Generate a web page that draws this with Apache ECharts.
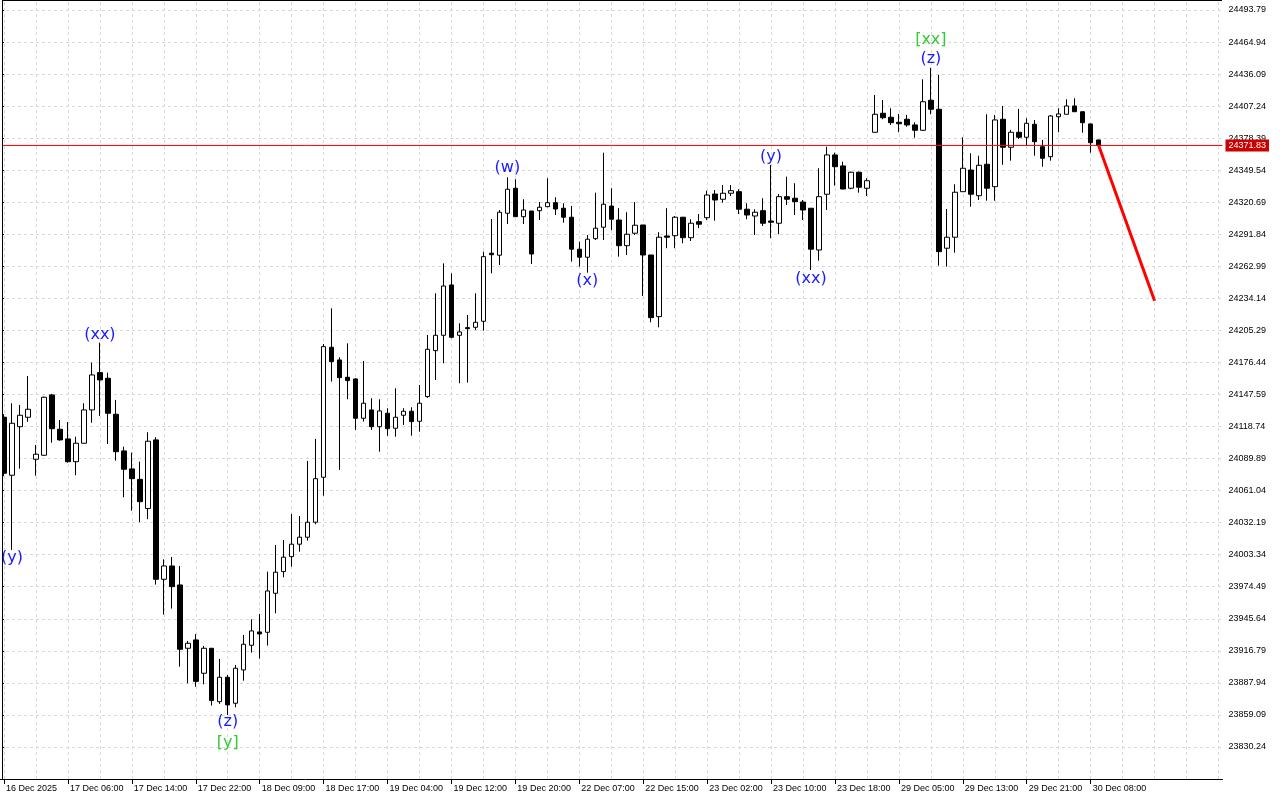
<!DOCTYPE html>
<html><head><meta charset="utf-8">
<script src="https://cdn.jsdelivr.net/npm/echarts@6/dist/echarts.min.js"></script>
<style>html,body{margin:0;padding:0;background:#fff}#c{width:1280px;height:800px}</style>
</head><body><div id="c"></div>
<script>
const xTickLabels = ["16 Dec 2025","17 Dec 06:00","17 Dec 14:00","17 Dec 22:00","18 Dec 09:00","18 Dec 17:00","19 Dec 04:00","19 Dec 12:00","19 Dec 20:00","22 Dec 07:00","22 Dec 15:00","23 Dec 02:00","23 Dec 10:00","23 Dec 18:00","29 Dec 05:00","29 Dec 13:00","29 Dec 21:00","30 Dec 08:00"];

const openV = [24127.1,24074.9,24118.6,24127.1,24089.3,24092.9,24147.2,24116.3,24107.6,24087.1,
24103.7,24133.7,24167.3,24162.2,24129.8,24096.8,24080.6,24071.2,24044.9,24106.7,
23981.2,23993.2,23976.1,23919.1,23926.6,23896.6,23919.1,23871.0,23893.0,23869.6,
23899.6,23921.8,23933.8,23933.5,23968.6,23988.1,24001.6,24012.8,24019.1,24032.6,
24073.1,24190.1,24178.7,24163.1,24161.6,24126.2,24133.7,24118.6,24130.7,24117.2,
24128.9,24132.5,24123.5,24145.7,24187.1,24200.9,24246.2,24200.9,24207.8,24208.1,
24213.5,24274.8,24273.0,24310.8,24333.3,24307.7,24312.8,24313.1,24316.7,24320.3,
24315.3,24307.2,24278.4,24271.2,24287.9,24298.2,24317.3,24304.7,24281.6,24292.8,
24300.2,24273.2,24217.7,24290.3,24290.6,24307.2,24288.8,24303.2,24306.8,24328.1,
24323.4,24328.8,24330.2,24314.4,24308.3,24313.1,24303.8,24301.8,24325.7,24324.3,
24320.9,24315.3,24277.7,24327.9,24363.3,24353.4,24333.3,24347.7,24333.3,24383.7,
24400.8,24397.2,24392.7,24395.4,24390.3,24385.5,24412.5,24404.4,24279.3,24289.2,
24330.2,24349.7,24326.6,24354.9,24334.7,24395.4,24370.2,24383.7,24379.2,24390.9,
24370.7,24361.7,24397.7,24399.9,24407.4,24402.2,24391.2,24376.8];

const closeV = [24076.7,24121.7,24128.9,24134.3,24093.8,24145.1,24116.8,24106.7,24087.1,24103.7,
24133.7,24165.2,24160.7,24130.7,24096.1,24080.3,24071.8,24051.1,24105.5,23981.2,
23993.2,23974.6,23918.2,23923.6,23889.3,23919.1,23872.0,23893.0,23868.1,23901.1,
23922.7,23934.7,23932.0,23970.7,23987.6,24001.1,24012.8,24019.1,24032.6,24071.8,
24190.7,24177.2,24162.8,24160.1,24126.2,24139.7,24118.6,24132.8,24116.8,24127.1,
24132.5,24123.2,24139.7,24188.3,24200.9,24245.3,24199.1,24203.9,24206.9,24212.6,
24271.7,24273.5,24311.7,24332.4,24307.7,24313.7,24274.1,24316.2,24320.3,24314.6,
24307.2,24278.4,24271.2,24287.4,24297.3,24318.9,24305.4,24281.6,24291.9,24300.0,
24273.2,24216.8,24289.2,24289.2,24307.2,24288.8,24301.8,24300.9,24327.2,24322.7,
24328.8,24331.1,24314.4,24309.2,24311.7,24301.8,24302.7,24325.7,24323.4,24321.2,
24313.7,24278.4,24325.7,24363.3,24352.7,24332.6,24347.7,24334.2,24340.1,24399.9,
24396.8,24392.3,24391.4,24390.3,24385.5,24411.2,24404.4,24276.2,24289.2,24329.7,
24351.3,24327.9,24354.0,24333.3,24394.8,24370.2,24383.7,24379.2,24391.8,24375.2,
24360.3,24398.4,24400.2,24407.4,24402.2,24392.3,24374.3,24371.83];

const lowV = [24074.0,24007.6,24080.8,24123.1,24074.5,24092.3,24104.2,24106.1,24086.2,24074.9,
24103.5,24122.2,24128.3,24103.1,24088.0,24055.1,24043.0,24032.6,24035.3,23976.4,
23949.4,23954.8,23902.6,23887.6,23884.5,23886.7,23867.5,23869.0,23859.1,23866.0,
23889.9,23915.2,23909.8,23921.5,23950.6,23983.0,23992.6,24006.1,24016.0,24030.8,
24056.5,24159.2,24079.7,24143.3,24115.7,24123.2,24115.7,24096.1,24110.3,24109.6,
24120.2,24110.5,24114.1,24144.5,24160.7,24175.7,24198.2,24157.7,24158.3,24205.7,
24205.1,24256.7,24264.2,24301.1,24307.4,24301.1,24265.1,24304.7,24316.2,24309.2,
24302.3,24267.2,24262.7,24257.3,24286.7,24286.7,24295.7,24271.7,24273.2,24291.2,
24236.3,24212.6,24208.1,24279.3,24279.3,24283.8,24285.8,24297.3,24304.7,24304.1,
24320.3,24326.3,24310.1,24305.4,24291.2,24299.3,24288.3,24291.9,24318.2,24309.2,
24304.7,24259.7,24268.1,24313.7,24335.6,24332.4,24332.4,24329.3,24326.3,24383.3,
24395.4,24390.3,24383.7,24388.7,24378.8,24384.9,24399.9,24263.6,24262.7,24275.3,
24330.2,24316.7,24322.7,24322.1,24322.1,24354.3,24358.1,24377.7,24371.6,24362.6,
24352.7,24358.1,24383.7,24399.9,24402.2,24383.3,24365.3,24370.7];

const highV = [24130.0,24139.7,24138.2,24164.3,24102.2,24145.7,24148.1,24124.7,24122.8,24109.6,
24139.7,24176.3,24194.3,24167.3,24142.7,24100.6,24095.2,24087.1,24113.6,24109.1,
23999.2,24001.3,23993.2,23925.7,23932.0,23921.2,23919.4,23909.5,23895.1,23904.1,
23931.1,23945.2,23950.0,23988.1,24012.1,24016.6,24040.0,24038.2,24087.8,24107.6,
24193.1,24225.2,24181.1,24193.7,24162.2,24177.8,24144.2,24143.3,24135.2,24153.2,
24135.2,24136.1,24156.2,24201.2,24238.7,24265.7,24256.7,24211.7,24219.2,24238.7,
24276.2,24305.6,24313.7,24343.2,24341.4,24323.4,24312.8,24320.9,24342.3,24325.2,
24319.8,24317.3,24285.2,24291.2,24329.3,24365.3,24333.3,24315.3,24311.7,24320.9,
24300.2,24273.2,24293.7,24315.3,24308.3,24307.5,24305.4,24310.1,24331.1,24331.7,
24336.2,24336.2,24332.4,24319.8,24314.4,24324.3,24354.3,24328.1,24343.7,24337.8,
24322.7,24315.3,24351.3,24370.7,24365.3,24357.2,24348.3,24348.3,24342.3,24417.3,
24412.8,24405.3,24400.2,24399.3,24392.7,24431.4,24441.8,24435.3,24314.6,24336.9,
24379.2,24364.8,24362.6,24399.9,24399.3,24407.4,24385.8,24404.7,24396.3,24394.8,
24376.8,24399.3,24405.3,24413.4,24414.3,24402.2,24391.2,24376.8];

const currentPrice = 24371.83;
const projectionIndex = [137, 144];
const projectionPrice = [24371.83, 24232.1];

const waveText  = ["(y)","(xx)","(z)","[y]","(w)","(x)","(y)","(xx)","[xx]","(z)"];
const waveIndex = [1, 12, 28, 28, 63, 73, 96, 101, 116, 116];
const wavePrice = [24000.4, 24201.2, 23852.8, 23833.9, 24351.5, 24249.8, 24361.5, 24251.6, 24466.8, 24449.7];
const waveColor = ["#1a1aff","#1a1aff","#1a1aff","#33cc33","#1a1aff","#1a1aff","#1a1aff","#1a1aff","#33cc33","#1a1aff"];

const yTickMin = 23801.39, yTickStep = 28.85, yMax = 24502.79;
const slotCount = 153;

const cats = Array.from({length: slotCount}, (_, i) => String(i));
const candles = openV.map((o, i) => [o, closeV[i], lowV[i], highV[i]]);
const isTick = (i) => i % 8 === 0 && (i / 8) < xTickLabels.length;
const vGrid = [];
for (let i = 0; i < slotCount; i += 4) vGrid.push({xAxis: i});

const chart = echarts.init(document.getElementById('c'), null, {renderer: 'canvas'});
const font = 'Liberation Sans';
chart.setOption({
  animation: false,
  backgroundColor: '#ffffff',
  grid: {left: -1.5, right: 57.5, top: 0, bottom: 21, containLabel: false},
  xAxis: [{
    type: 'category', data: cats, boundaryGap: true,
    axisLine: {show: true, lineStyle: {color: '#000', width: 1}},
    axisTick: {show: true, alignWithLabel: true, interval: (i) => isTick(i), length: 5, lineStyle: {color: '#000'}},
    axisLabel: {interval: (i) => isTick(i), formatter: (v, i) => xTickLabels[Math.round(i / 8)] || '',
      align: 'left', color: '#000', fontSize: 9, fontFamily: font, margin: 5, padding: [0, 0, 0, 2]},
    splitLine: {show: false}
  }, {
    type: 'value', min: 0, max: 1, show: false, position: 'top'
  }],
  yAxis: {
    type: 'value', position: 'right', min: yTickMin, max: yMax, interval: yTickStep,
    axisLine: {show: true, lineStyle: {color: '#000', width: 2}},
    axisTick: {show: true, length: 4, lineStyle: {color: '#000'}},
    axisLabel: {showMinLabel: false, showMaxLabel: false, formatter: (v) => v.toFixed(2),
      color: '#000', fontSize: 9, fontFamily: font, margin: 6},
    splitLine: {show: true, lineStyle: {color: '#d9d9d9', type: [3, 3], width: 1}}
  },
  series: [
    {
      type: 'line', data: [], z: 1, silent: true,
      markLine: {silent: true, symbol: 'none', z: 1, animation: false,
        lineStyle: {color: '#d9d9d9', type: [3, 3], width: 1},
        label: {show: false}, data: vGrid}
    },
    {
      type: 'candlestick', data: candles, barWidth: 5, z: 3,
      itemStyle: {color: '#ffffff', color0: '#000000', borderColor: '#000000', borderColor0: '#000000', borderWidth: 1}
    },
    {
      type: 'line', xAxisIndex: 1, z: 4, symbol: 'none', silent: true, color: '#ff0000',
      data: [[0, currentPrice], [1, currentPrice]],
      lineStyle: {color: '#ff0000', width: 1},
      endLabel: {show: true, formatter: currentPrice.toFixed(2), backgroundColor: '#cc0000',
        color: '#ffffff', fontSize: 9, fontFamily: font, padding: [2, 3, 1, 3], distance: 3}
    },
    {
      type: 'line', z: 4, symbol: 'none', silent: true, color: '#ff0000',
      data: projectionIndex.map((k, i) => [k, projectionPrice[i]]),
      lineStyle: {color: '#ff0000', width: 3}
    },
    {
      type: 'scatter', z: 5, symbol: 'circle', symbolSize: 1, silent: true,
      itemStyle: {color: 'rgba(255,255,255,0)', opacity: 1},
      label: {show: true, position: 'inside', formatter: '{b}', fontSize: 16, fontFamily: 'DejaVu Sans', opacity: 1},
      data: waveText.map((t, i) => ({name: t, value: [waveIndex[i], wavePrice[i]],
        label: {show: true, color: waveColor[i]}}))
    }
  ],
  graphic: [
    {type: 'rect', shape: {x: 0, y: 0, width: 2, height: 779}, style: {fill: '#ffffff'}, z: 100},
    {type: 'line', shape: {x1: 2.5, y1: 0, x2: 2.5, y2: 779}, style: {stroke: '#000', lineWidth: 1}, z: 101},
    {type: 'line', shape: {x1: 2, y1: 0.5, x2: 1222, y2: 0.5}, style: {stroke: '#000', lineWidth: 1}, z: 101}
  ]
});
</script></body></html>
